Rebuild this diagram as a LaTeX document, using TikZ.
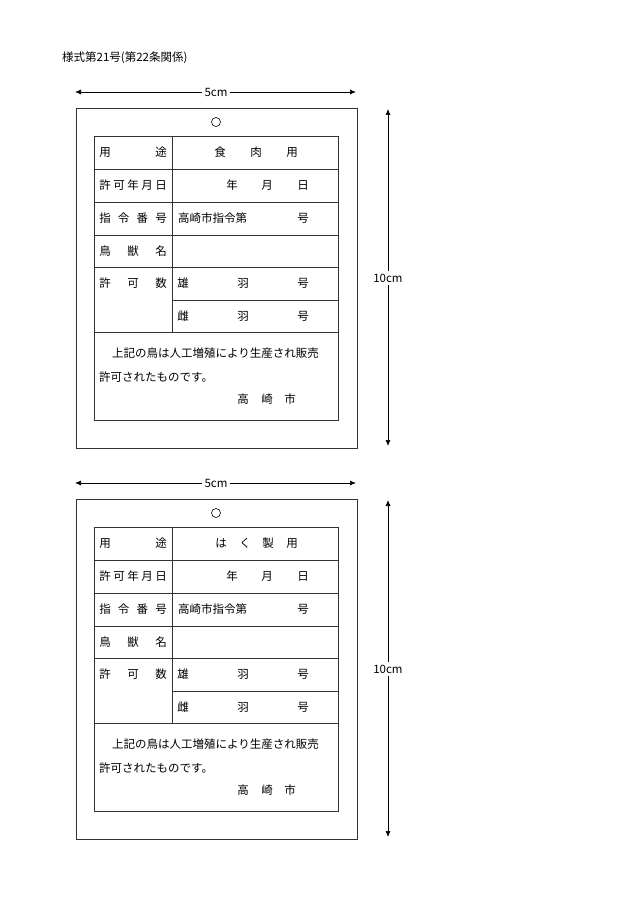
\documentclass[tikz,border=0pt]{standalone}
\usepackage{fontspec}
\setmainfont{Noto Sans CJK JP}
\usetikzlibrary{arrows.meta}
\newcounter{chn}
\newcommand{\ch}[3]{\stepcounter{chn}\node[ch] (c\thechn) at (#1,#2) {#3};}
\newcommand{\lt}[3]{\stepcounter{chn}\node[ch,anchor=west] (c\thechn) at (#1,#2) {#3};}
\tikzset{ch/.style={inner sep=0pt,font=\fontsize{11.5}{12}\selectfont},
 ln/.style={line width=0.8pt,black!80},
 dim/.style={line width=0.7pt,-{Latex[length=6pt,width=5pt]}}}
\newcommand{\card}[4]{%
\begin{scope}[shift={(0,#1)}]
 \coordinate (ha#4) at (75,92); \coordinate (hb#4) at (356,92);
 \node[ch,fill=white,inner xsep=2pt] (hl#4) at (216,92) {5cm};
 \draw[dim] (hl#4.west) -- (ha#4); \draw[dim] (hl#4.east) -- (hb#4);
 \coordinate (va#4) at (388,109); \coordinate (vb#4) at (388,446);
 \node[ch,fill=white,inner ysep=3pt] (vl#4) at (388,278) {10cm};
 \draw[dim] (vl#4.north) -- (va#4); \draw[dim] (vl#4.south) -- (vb#4);
 \draw[ln] (76,108) rectangle (357,448);
 \node[circle,draw,line width=0.6pt,minimum size=9pt,inner sep=0pt] (hole#4) at (216,122) {};
 \draw[ln] (94,136) rectangle (338,420);
 \draw[ln] (172,136) -- (172,332);
 \foreach \y in {169,202,235,267,332} \draw[ln] (94,\y) -- (338,\y);
 \draw[ln] (172,300) -- (338,300);
 \ch{105}{152.5}{用}\ch{161}{152.5}{途}
 #2
 \ch{105}{185.5}{許}\ch{119}{185.5}{可}\ch{133}{185.5}{年}\ch{147}{185.5}{月}\ch{161}{185.5}{日}
 \ch{232}{185.5}{年}\ch{267}{185.5}{月}\ch{303}{185.5}{日}
 \ch{105}{218.5}{指}\ch{123.7}{218.5}{令}\ch{142.3}{218.5}{番}\ch{161}{218.5}{号}
 \lt{178}{218.5}{高崎市指令第}\ch{303}{218.5}{号}
 \ch{105}{251}{鳥}\ch{133}{251}{獣}\ch{161}{251}{名}
 \ch{105}{283.5}{許}\ch{133}{283.5}{可}\ch{161}{283.5}{数}
 \ch{183}{283.5}{雄}\ch{243}{283.5}{羽}\ch{303}{283.5}{号}
 \ch{183}{316}{雌}\ch{243}{316}{羽}\ch{303}{316}{号}
 \lt{112}{353}{上記の鳥は人工増殖により生産され販売}
 \lt{99}{377}{許可されたものです。}
 \ch{243}{399}{高}\ch{267}{399}{崎}\ch{290}{399}{市}
\end{scope}}
\begin{document}
\begin{tikzpicture}[x=1pt,y=-1pt]
\useasboundingbox (0,0) rectangle (630,915);
\node[ch,anchor=west] (title) at (62,58) {様式第21号(第22条関係)};
\card{0}{\ch{220}{152.5}{食}\ch{256}{152.5}{肉}\ch{292}{152.5}{用}}{x}{A}
\card{391}{\ch{221}{152.5}{は}\ch{245}{152.5}{く}\ch{268}{152.5}{製}\ch{292}{152.5}{用}}{x}{B}
\end{tikzpicture}
\end{document}
